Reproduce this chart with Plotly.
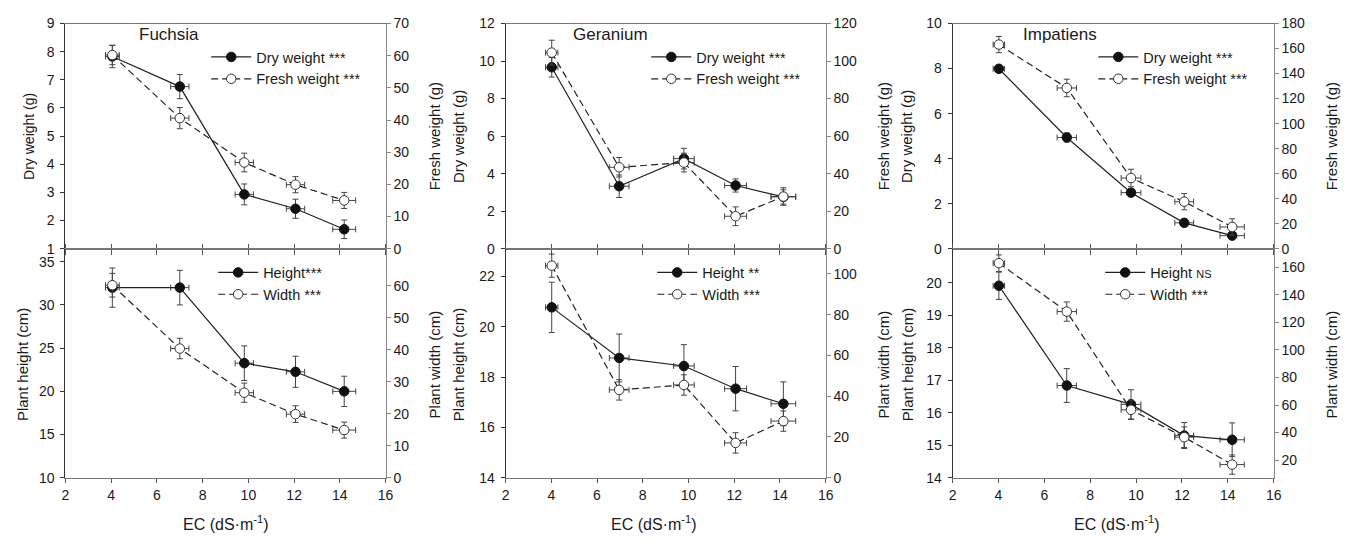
import plotly.graph_objects as go

W, H = 1359, 545

# ---------------- data ----------------
ec_fuchsia = [4.05, 7.0, 9.82, 12.06, 14.19]
ec_fuchsia_err = [0.3, 0.4, 0.4, 0.4, 0.5]
ec_geranium = [4.02, 6.97, 9.8, 12.06, 14.15]
ec_geranium_err = [0.27, 0.43, 0.45, 0.48, 0.54]
ec_impatiens = [4.02, 6.98, 9.78, 12.1, 14.19]
ec_impatiens_err = [0.25, 0.42, 0.43, 0.41, 0.53]

fuchsia_dry = [7.83, 6.76, 2.93, 2.42, 1.69]
fuchsia_dry_err = [0.4, 0.43, 0.37, 0.34, 0.33]
fuchsia_fresh = [60.2, 40.6, 26.8, 19.9, 15.0]
fuchsia_fresh_err = [3.0, 3.3, 2.9, 2.5, 2.5]
fuchsia_height = [32.0, 32.0, 23.26, 22.26, 20.0]
fuchsia_height_err = [2.27, 2.0, 2.0, 1.8, 1.75]
fuchsia_width = [60.2, 40.4, 26.6, 19.9, 14.9]
fuchsia_width_err = [3.7, 3.2, 3.0, 2.6, 2.5]

geranium_dry = [9.67, 3.33, 4.8, 3.37, 2.76]
geranium_dry_err = [0.52, 0.6, 0.55, 0.35, 0.38]
geranium_fresh = [104.5, 43.4, 45.9, 17.3, 27.8]
geranium_fresh_err = [6.6, 5.2, 5.0, 5.0, 4.7]
geranium_height = [20.77, 18.76, 18.44, 17.54, 16.94]
geranium_height_err = [1.0, 0.95, 0.85, 0.88, 0.87]
geranium_width = [104.0, 43.1, 45.5, 17.1, 27.8]
geranium_width_err = [5.7, 5.0, 5.0, 5.0, 5.0]

impatiens_dry = [7.99, 4.94, 2.49, 1.15, 0.58]
impatiens_dry_err = [0.1, 0.2, 0.15, 0.1, 0.1]
impatiens_fresh = [163.2, 128.5, 56.5, 37.6, 17.4]
impatiens_fresh_err = [6.5, 7.0, 7.0, 6.5, 6.5]
impatiens_height = [19.91, 16.84, 16.26, 15.3, 15.17]
impatiens_height_err = [0.42, 0.52, 0.45, 0.4, 0.52]
impatiens_width = [163.1, 127.9, 56.5, 36.6, 16.7]
impatiens_width_err = [6.0, 7.0, 7.0, 7.5, 7.0]

species = ["Fuchsia", "Geranium", "Impatiens"]
x_ticks = [2, 4, 6, 8, 10, 12, 14, 16]

left_ticks = [
    [1, 2, 3, 4, 5, 6, 7, 8, 9],
    [0, 2, 4, 6, 8, 10, 12],
    [0, 2, 4, 6, 8, 10],
    [10, 15, 20, 25, 30, 35],
    [14, 16, 18, 20, 22],
    [14, 15, 16, 17, 18, 19, 20],
]
right_ticks = [
    [0, 10, 20, 30, 40, 50, 60, 70],
    [0, 20, 40, 60, 80, 100, 120],
    [0, 20, 40, 60, 80, 100, 120, 140, 160, 180],
    [0, 10, 20, 30, 40, 50, 60],
    [0, 20, 40, 60, 80, 100],
    [20, 40, 60, 80, 100, 120, 140, 160],
]
left_ranges = [[1, 9], [0, 12], [0, 10], [10, 36.5], [14, 23.1], [14, 21.05]]
right_ranges = [[0, 70], [0, 120], [0, 180], [0, 71.6], [0, 112.3], [7.1, 173.6]]

legend_names = [
    ("Dry weight ***", "Fresh weight ***"),
    ("Dry weight ***", "Fresh weight ***"),
    ("Dry weight ***", "Fresh weight ***"),
    ("Height***", "Width ***"),
    ("Height **", "Width ***"),
    ("Height <span style='font-size:11px'>NS</span>", "Width ***"),
]

panels = [
    (ec_fuchsia, ec_fuchsia_err, fuchsia_dry, fuchsia_dry_err, fuchsia_fresh, fuchsia_fresh_err),
    (ec_geranium, ec_geranium_err, geranium_dry, geranium_dry_err, geranium_fresh, geranium_fresh_err),
    (ec_impatiens, ec_impatiens_err, impatiens_dry, impatiens_dry_err, impatiens_fresh, impatiens_fresh_err),
    (ec_fuchsia, ec_fuchsia_err, fuchsia_height, fuchsia_height_err, fuchsia_width, fuchsia_width_err),
    (ec_geranium, ec_geranium_err, geranium_height, geranium_height_err, geranium_width, geranium_width_err),
    (ec_impatiens, ec_impatiens_err, impatiens_height, impatiens_height_err, impatiens_width, impatiens_width_err),
]

# ---------------- layout geometry (pixels) ----------------
col_px = [(62, 385), (506, 829), (957, 1281)]
row_px = [(16, 248), (248, 484)]

def xd(a, b):
    return [a / W, b / W]

def yd(top, bot):
    return [1 - bot / H, 1 - top / H]

FONT = "Liberation Sans, Arial, sans-serif"
TXT = "#1a1a1a"
ERR = dict(type="data", color="#444", thickness=1, width=3)

fig = go.Figure()
layout = dict(
    width=W, height=H,
    margin=dict(l=0, r=0, t=0, b=0),
    paper_bgcolor="white", plot_bgcolor="white",
    font=dict(family=FONT, size=14, color=TXT),
    showlegend=True,
)

legend_pos = [
    (204, 34), (648, 34), (1099, 34),
    (211, 256), (654, 256), (1106, 256),
]

for i, (xs, xe, y1, e1, y2, e2) in enumerate(panels):
    col = i % 3
    row = i // 3
    xn = i + 1
    yl = 2 * i + 1
    yr = 2 * i + 2
    xname = "x" if xn == 1 else f"x{xn}"
    ylname = "y" if yl == 1 else f"y{yl}"
    yrname = f"y{yr}"
    lname = "legend" if i == 0 else f"legend{i + 1}"

    fig.add_trace(go.Scatter(
        x=xs, y=y1, mode="lines+markers", name=legend_names[i][0],
        line=dict(color="#222", width=1.2),
        marker=dict(symbol="circle", size=9.5, color="#111", line=dict(color="#111", width=1)),
        error_y=dict(array=e1, **ERR), error_x=dict(array=xe, **ERR),
        xaxis=xname, yaxis=ylname, legend=lname,
    ))
    fig.add_trace(go.Scatter(
        x=xs, y=y2, mode="lines+markers", name=legend_names[i][1],
        line=dict(color="#222", width=1.2, dash="7px,4px"),
        marker=dict(symbol="circle", size=9.5, color="white", line=dict(color="#333", width=1)),
        error_y=dict(array=e2, **ERR), error_x=dict(array=xe, **ERR),
        xaxis=xname, yaxis=yrname, legend=lname,
    ))

    xk = "xaxis" if xn == 1 else f"xaxis{xn}"
    ylk = "yaxis" if yl == 1 else f"yaxis{yl}"
    yrk = f"yaxis{yr}"
    a, b = col_px[col]
    t, bt = row_px[row]
    xa = dict(
        domain=xd(a, b), anchor=ylname, range=[2, 16], tickvals=x_ticks,
        showgrid=False, zeroline=False, showline=True, linecolor="#777", linewidth=1,
        ticks="outside", ticklen=5, tickcolor="#555",
        tickfont=dict(family=FONT, size=14, color=TXT),
    )
    if row == 0:
        xa.update(showticklabels=False, mirror=True)
    else:
        xa.update(mirror="ticks", ticklen=4)
    layout[xk] = xa
    layout[ylk] = dict(
        domain=yd(t, bt), anchor=xname, range=left_ranges[i], tickvals=left_ticks[i],
        showgrid=False, zeroline=False, showline=True, linecolor="#333", linewidth=1,
        ticks="outside", ticklen=4, tickcolor="#333", ticklabelstandoff=3,
        tickfont=dict(family=FONT, size=14, color=TXT),
    )
    layout[yrk] = dict(
        overlaying=ylname, side="right", anchor=xname, range=right_ranges[i],
        tickvals=right_ticks[i],
        showgrid=False, zeroline=False, showline=True, linecolor="#888", linewidth=1,
        ticks="outside", ticklen=4, tickcolor="#888",
        tickfont=dict(family=FONT, size=14, color=TXT),
    )
    lx, ly = legend_pos[i]
    layout[lname] = dict(
        x=lx / W, y=1 - ly / H, xanchor="left", yanchor="top",
        bgcolor="rgba(0,0,0,0)", borderwidth=0, tracegroupgap=0, itemwidth=40,
        font=dict(family=FONT, size=14.5, color=TXT), itemclick=False,
    )

annotations = []
def ann(text, x, y, angle=0, size=14, xanchor="center"):
    annotations.append(dict(
        text=text, x=x / W, y=1 - y / H, xref="paper", yref="paper",
        showarrow=False, textangle=angle, xanchor=xanchor, yanchor="middle",
        font=dict(family=FONT, size=size, color=TXT),
    ))

left_title_x = [25, 458, 910]
right_title_x = [434, 887, 1339]
bot_left_title_x = [18, 458, 911]
bot_right_title_x = [434, 887, 1339]
for c in range(3):
    ann("Dry weight (g)", left_title_x[c], 132, -90, 14 if c == 0 else 15)
    ann("Fresh weight (g)", right_title_x[c], 132, -90, 15)
    ann("Plant height (cm)", bot_left_title_x[c], 367, -90, 15)
    ann("Plant width (cm)", bot_right_title_x[c], 367, -90, 15)

ec_label_x = [224, 656, 1123]
for c in range(3):
    ann("EC (dS·m<sup>-1</sup>)", ec_label_x[c], 531, 0, 16)

title_x = [134, 572, 1026]
for c in range(3):
    ann(species[c], title_x[c], 27, 0, 17, xanchor="left")

layout["annotations"] = annotations
fig.update_layout(**layout)
fig.write_html(
    "out.html",
    config={"displayModeBar": False},
    post_script="document.body.style.margin='0';document.body.style.overflow='hidden';",
)
